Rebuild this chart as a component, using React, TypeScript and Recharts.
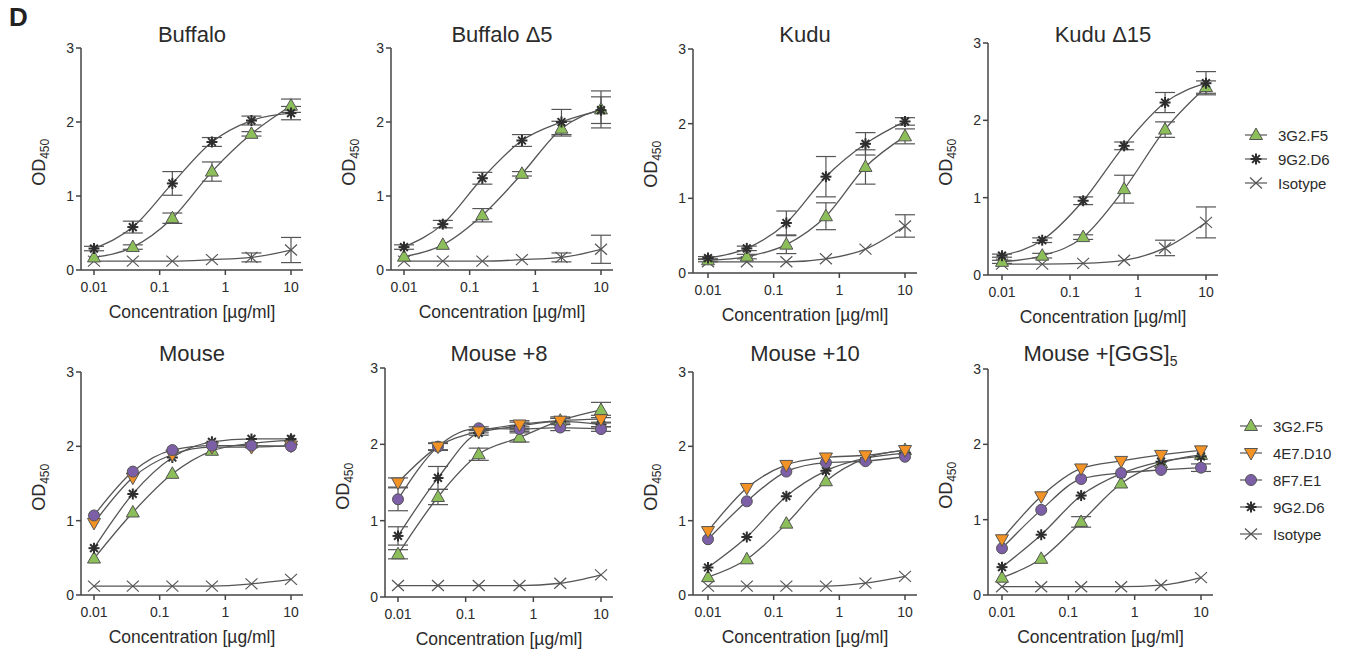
import React from "react";
import { ComposedChart, Line, XAxis, YAxis, ErrorBar } from "recharts";

// dilution series (µg/ml)
const conc = [0.01, 0.039, 0.156, 0.625, 2.5, 10];
const xTicks = [0.01, 0.1, 1, 10];
const yTicks = [0, 1, 2, 3];

// Buffalo
const buffalo3G2 = [0.17, 0.31, 0.7, 1.33, 1.84, 2.22];
const buffalo3G2Err = [0, 0.03, 0.07, 0.13, 0.03, 0.09];
const buffalo9G2 = [0.29, 0.58, 1.17, 1.73, 2.02, 2.12];
const buffalo9G2Err = [0.03, 0.08, 0.16, 0.06, 0.06, 0.09];
const buffaloIso = [0.12, 0.12, 0.12, 0.14, 0.17, 0.27];
const buffaloIsoErr = [0, 0, 0, 0, 0.06, 0.17];

// Buffalo Δ5
const buffaloD5_3G2 = [0.18, 0.34, 0.74, 1.3, 1.91, 2.17];
const buffaloD5_3G2Err = [0, 0, 0.09, 0.03, 0.1, 0.25];
const buffaloD5_9G2 = [0.31, 0.62, 1.24, 1.75, 2.0, 2.16];
const buffaloD5_9G2Err = [0.03, 0.05, 0.08, 0.08, 0.17, 0.18];
const buffaloD5Iso = [0.12, 0.12, 0.12, 0.14, 0.17, 0.28];
const buffaloD5IsoErr = [0, 0, 0, 0, 0.06, 0.19];

// Kudu
const kudu3G2 = [0.17, 0.22, 0.38, 0.76, 1.42, 1.83];
const kudu3G2Err = [0.02, 0.03, 0.12, 0.18, 0.23, 0.1];
const kudu9G2 = [0.2, 0.33, 0.67, 1.29, 1.73, 2.03];
const kudu9G2Err = [0.02, 0.03, 0.16, 0.27, 0.15, 0.05];
const kuduIso = [0.15, 0.15, 0.15, 0.19, 0.32, 0.63];
const kuduIsoErr = [0, 0, 0, 0, 0, 0.15];

// Kudu Δ15
const kuduD15_3G2 = [0.17, 0.25, 0.49, 1.11, 1.88, 2.43];
const kuduD15_3G2Err = [0.02, 0.03, 0.03, 0.18, 0.1, 0.08];
const kuduD15_9G2 = [0.25, 0.45, 0.96, 1.67, 2.23, 2.48];
const kuduD15_9G2Err = [0.02, 0.03, 0.05, 0.05, 0.13, 0.15];
const kuduD15Iso = [0.14, 0.14, 0.15, 0.19, 0.35, 0.68];
const kuduD15IsoErr = [0, 0, 0, 0, 0.1, 0.2];

// Mouse
const mouse3G2 = [0.49, 1.11, 1.63, 1.94, 2.04, 2.08];
const mouse4E7 = [0.97, 1.58, 1.89, 1.99, 1.99, 2.01];
const mouse8F7 = [1.07, 1.66, 1.95, 2.01, 2.01, 2.0];
const mouse9G2 = [0.63, 1.36, 1.85, 2.06, 2.1, 2.1];
const mouseIso = [0.12, 0.12, 0.12, 0.12, 0.15, 0.21];

// Mouse +8
const mouse8_3G2 = [0.56, 1.31, 1.87, 2.09, 2.31, 2.45];
const mouse8_3G2Err = [0.06, 0.1, 0.08, 0.06, 0.05, 0.1];
const mouse8_4E7 = [1.5, 1.97, 2.17, 2.26, 2.31, 2.33];
const mouse8_4E7Err = [0.06, 0.04, 0.02, 0.05, 0.03, 0.05];
const mouse8_8F7 = [1.28, 1.97, 2.21, 2.2, 2.22, 2.2];
const mouse8_8F7Err = [0.15, 0.05, 0.02, 0.03, 0.04, 0.03];
const mouse8_9G2 = [0.8, 1.56, 2.15, 2.24, 2.3, 2.26];
const mouse8_9G2Err = [0.12, 0.15, 0.03, 0.05, 0.04, 0.03];
const mouse8Iso = [0.15, 0.15, 0.15, 0.15, 0.18, 0.29];

// Mouse +10
const mouse10_3G2 = [0.24, 0.48, 0.96, 1.53, 1.84, 1.95];
const mouse10_4E7 = [0.86, 1.44, 1.75, 1.85, 1.88, 1.95];
const mouse10_8F7 = [0.75, 1.26, 1.66, 1.78, 1.8, 1.86];
const mouse10_9G2 = [0.37, 0.78, 1.33, 1.67, 1.84, 1.91];
const mouse10Iso = [0.12, 0.12, 0.12, 0.12, 0.16, 0.25];

// Mouse +[GGS]5
const mouseGGS_3G2 = [0.23, 0.48, 0.97, 1.48, 1.75, 1.86];
const mouseGGS_3G2Err = [0, 0, 0.07, 0, 0, 0];
const mouseGGS_4E7 = [0.74, 1.31, 1.68, 1.78, 1.86, 1.92];
const mouseGGS_8F7 = [0.62, 1.13, 1.54, 1.62, 1.66, 1.69];
const mouseGGS_8F7Err = [0, 0, 0, 0, 0, 0.05];
const mouseGGS_9G2 = [0.37, 0.8, 1.32, 1.61, 1.77, 1.84];
const mouseGGSIso = [0.11, 0.11, 0.11, 0.11, 0.13, 0.23];

const FONT = "'Liberation Sans', Arial, Helvetica, sans-serif";
const INK = "#2b2b2b";
const LINE = "#555";

const clones: Record<string, { shape: string; fill: string }> = {
  "3G2.F5": { shape: "tri", fill: "#8CBF5A" },
  "4E7.D10": { shape: "inv", fill: "#F39325" },
  "8F7.E1": { shape: "circle", fill: "#7D5FA8" },
  "9G2.D6": { shape: "star", fill: "#333" },
  Isotype: { shape: "x", fill: "none" },
};

function Marker({ shape, fill, cx, cy }: { shape: string; fill: string; cx: number; cy: number }) {
  if (shape === "tri")
    return (
      <polygon
        points={`${cx},${cy - 7} ${cx - 6.5},${cy + 4.5} ${cx + 6.5},${cy + 4.5}`}
        fill={fill}
        stroke={LINE}
        strokeWidth={1}
      />
    );
  if (shape === "inv")
    return (
      <polygon
        points={`${cx - 6.5},${cy - 4.5} ${cx + 6.5},${cy - 4.5} ${cx},${cy + 7}`}
        fill={fill}
        stroke={LINE}
        strokeWidth={1}
      />
    );
  if (shape === "circle") return <circle cx={cx} cy={cy} r={5.5} fill={fill} stroke={LINE} strokeWidth={1} />;
  if (shape === "star") {
    const r = 5.5;
    const d = r * Math.SQRT1_2;
    return (
      <g stroke="#2e2e2e" strokeWidth={2}>
        <line x1={cx - r} y1={cy} x2={cx + r} y2={cy} />
        <line x1={cx} y1={cy - r} x2={cx} y2={cy + r} />
        <line x1={cx - d} y1={cy - d} x2={cx + d} y2={cy + d} />
        <line x1={cx - d} y1={cy + d} x2={cx + d} y2={cy - d} />
      </g>
    );
  }
  return (
    <g stroke={LINE} strokeWidth={1.2}>
      <line x1={cx - 6} y1={cy - 5.5} x2={cx + 6} y2={cy + 5.5} />
      <line x1={cx - 6} y1={cy + 5.5} x2={cx + 6} y2={cy - 5.5} />
    </g>
  );
}

function XTick(p: any) {
  return (
    <text x={p.x} y={p.y} dy="0.85em" textAnchor="middle" fontSize={14} fill={INK} fontFamily={FONT}>
      {String(p.payload.value)}
    </text>
  );
}

function YTick(p: any) {
  return (
    <text x={p.x} y={p.y} dy="0.36em" textAnchor="end" fontSize={14} fill={INK} fontFamily={FONT}>
      {String(p.payload.value)}
    </text>
  );
}

type Series = { name: string; values: number[]; errs?: number[] };
type Box = { axisX: number; x001: number; x10: number; yTop: number; yBottom: number; titleY: number };

function toRows(s: Series) {
  return conc.map((x, i) => ({ x, y: s.values[i], e: s.errs && s.errs[i] ? s.errs[i] : null }));
}

const panels: { title: React.ReactNode; box: Box; series: Series[] }[] = [
  {
    title: "Buffalo",
    box: { axisX: 81, x001: 94, x10: 291, yTop: 48, yBottom: 270, titleY: 35 },
    series: [
      { name: "Isotype", values: buffaloIso, errs: buffaloIsoErr },
      { name: "3G2.F5", values: buffalo3G2, errs: buffalo3G2Err },
      { name: "9G2.D6", values: buffalo9G2, errs: buffalo9G2Err },
    ],
  },
  {
    title: "Buffalo Δ5",
    box: { axisX: 391, x001: 404, x10: 601, yTop: 48, yBottom: 270, titleY: 35 },
    series: [
      { name: "Isotype", values: buffaloD5Iso, errs: buffaloD5IsoErr },
      { name: "3G2.F5", values: buffaloD5_3G2, errs: buffaloD5_3G2Err },
      { name: "9G2.D6", values: buffaloD5_9G2, errs: buffaloD5_9G2Err },
    ],
  },
  {
    title: "Kudu",
    box: { axisX: 693, x001: 708, x10: 905, yTop: 49, yBottom: 273, titleY: 35 },
    series: [
      { name: "Isotype", values: kuduIso, errs: kuduIsoErr },
      { name: "3G2.F5", values: kudu3G2, errs: kudu3G2Err },
      { name: "9G2.D6", values: kudu9G2, errs: kudu9G2Err },
    ],
  },
  {
    title: "Kudu Δ15",
    box: { axisX: 988, x001: 1002, x10: 1206, yTop: 43, yBottom: 275, titleY: 35 },
    series: [
      { name: "Isotype", values: kuduD15Iso, errs: kuduD15IsoErr },
      { name: "3G2.F5", values: kuduD15_3G2, errs: kuduD15_3G2Err },
      { name: "9G2.D6", values: kuduD15_9G2, errs: kuduD15_9G2Err },
    ],
  },
  {
    title: "Mouse",
    box: { axisX: 81, x001: 94, x10: 291, yTop: 372, yBottom: 595, titleY: 354 },
    series: [
      { name: "Isotype", values: mouseIso },
      { name: "3G2.F5", values: mouse3G2 },
      { name: "9G2.D6", values: mouse9G2 },
      { name: "4E7.D10", values: mouse4E7 },
      { name: "8F7.E1", values: mouse8F7 },
    ],
  },
  {
    title: "Mouse +8",
    box: { axisX: 385, x001: 398, x10: 601, yTop: 368, yBottom: 597, titleY: 354 },
    series: [
      { name: "Isotype", values: mouse8Iso },
      { name: "3G2.F5", values: mouse8_3G2, errs: mouse8_3G2Err },
      { name: "9G2.D6", values: mouse8_9G2, errs: mouse8_9G2Err },
      { name: "8F7.E1", values: mouse8_8F7, errs: mouse8_8F7Err },
      { name: "4E7.D10", values: mouse8_4E7, errs: mouse8_4E7Err },
    ],
  },
  {
    title: "Mouse +10",
    box: { axisX: 693, x001: 708, x10: 905, yTop: 372, yBottom: 595, titleY: 354 },
    series: [
      { name: "Isotype", values: mouse10Iso },
      { name: "3G2.F5", values: mouse10_3G2 },
      { name: "9G2.D6", values: mouse10_9G2 },
      { name: "8F7.E1", values: mouse10_8F7 },
      { name: "4E7.D10", values: mouse10_4E7 },
    ],
  },
  {
    title: (
      <>
        Mouse +[GGS]<sub style={{ fontSize: 14, lineHeight: 0 }}>5</sub>
      </>
    ),
    box: { axisX: 988, x001: 1002, x10: 1201, yTop: 369, yBottom: 595, titleY: 354 },
    series: [
      { name: "Isotype", values: mouseGGSIso },
      { name: "3G2.F5", values: mouseGGS_3G2, errs: mouseGGS_3G2Err },
      { name: "9G2.D6", values: mouseGGS_9G2 },
      { name: "8F7.E1", values: mouseGGS_8F7, errs: mouseGGS_8F7Err },
      { name: "4E7.D10", values: mouseGGS_4E7 },
    ],
  },
];

const legendTop = ["3G2.F5", "9G2.D6", "Isotype"];
const legendBottom = ["3G2.F5", "4E7.D10", "8F7.E1", "9G2.D6", "Isotype"];

function Panel({ title, box, series }: { title: React.ReactNode; box: Box; series: Series[] }) {
  const { axisX, x001, x10, yTop, yBottom, titleY } = box;
  const perDecade = (x10 - x001) / 3;
  const axisEnd = x10 + 12;
  const lo = Math.pow(10, -2 - (x001 - axisX) / perDecade);
  const hi = Math.pow(10, 1 + (axisEnd - x10) / perDecade);
  const plotW = axisEnd - axisX;
  const plotH = yBottom - yTop;
  const ML = 40;
  const MT = 10;
  const MR = 10;
  const XH = 30;
  const axisStyle = { stroke: "#444", strokeWidth: 1.5 };

  return (
    <>
      <div style={{ position: "absolute", left: axisX - ML, top: yTop - MT }}>
        <ComposedChart
          width={ML + plotW + MR}
          height={MT + plotH + XH}
          margin={{ top: MT, right: MR, bottom: 0, left: 0 }}
        >
          <XAxis
            type="number"
            dataKey="x"
            scale="log"
            domain={[lo, hi]}
            allowDataOverflow
            ticks={xTicks}
            height={XH}
            tick={<XTick />}
            tickSize={5}
            tickMargin={5}
            axisLine={axisStyle}
            tickLine={axisStyle}
          />
          <YAxis
            type="number"
            domain={[0, 3]}
            ticks={yTicks}
            width={ML}
            tick={<YTick />}
            tickSize={5}
            tickMargin={2}
            axisLine={axisStyle}
            tickLine={axisStyle}
          />
          {series.map((s) => {
            const c = clones[s.name];
            return (
              <Line
                key={s.name}
                data={toRows(s)}
                dataKey="y"
                type="monotone"
                stroke={LINE}
                strokeWidth={1.3}
                isAnimationActive={false}
                activeDot={false}
                dot={(p: any) => <Marker key={p.index} shape={c.shape} fill={c.fill} cx={p.cx} cy={p.cy} />}
              >
                {s.errs && <ErrorBar dataKey="e" width={10} stroke={LINE} strokeWidth={1.2} direction="y" />}
              </Line>
            );
          })}
        </ComposedChart>
      </div>
      <div
        style={{
          position: "absolute",
          left: axisX,
          width: plotW,
          top: titleY - 13,
          textAlign: "center",
          fontSize: 22,
          color: INK,
          whiteSpace: "nowrap",
          lineHeight: "26px",
        }}
      >
        {title}
      </div>
      <div
        style={{
          position: "absolute",
          left: axisX - 39 - 50,
          top: (yTop + yBottom) / 2 - 12,
          width: 100,
          textAlign: "center",
          fontSize: 18,
          color: INK,
          lineHeight: "24px",
          transform: "rotate(-90deg)",
        }}
      >
        OD<sub style={{ fontSize: 12 }}>450</sub>
      </div>
      <div
        style={{
          position: "absolute",
          left: axisX - 40,
          width: plotW + 80,
          top: yBottom + 31,
          textAlign: "center",
          fontSize: 17.5,
          color: INK,
          lineHeight: "22px",
          whiteSpace: "nowrap",
        }}
      >
        Concentration [µg/ml]
      </div>
    </>
  );
}

function Legend({ names, x, y, gap }: { names: string[]; x: number; y: number; gap: number }) {
  return (
    <>
      {names.map((n, i) => (
        <div
          key={n}
          style={{ position: "absolute", left: x, top: y + i * gap - 10, height: 20, display: "flex", alignItems: "center" }}
        >
          <svg width={24} height={20}>
            <line x1={1} y1={10} x2={23} y2={10} stroke={LINE} strokeWidth={1.2} />
            <Marker shape={clones[n].shape} fill={clones[n].fill} cx={12} cy={10} />
          </svg>
          <span style={{ marginLeft: 10, fontSize: 15, color: INK }}>{n}</span>
        </div>
      ))}
    </>
  );
}

export default function App() {
  return (
    <div
      style={{
        position: "absolute",
        left: 0,
        top: 0,
        width: 1350,
        height: 652,
        background: "#fff",
        fontFamily: FONT,
        overflow: "hidden",
      }}
    >
      <div style={{ position: "absolute", left: 9, top: 2, fontSize: 26, fontWeight: 700, color: "#222" }}>D</div>
      {panels.map((p, i) => (
        <Panel key={i} title={p.title} box={p.box} series={p.series} />
      ))}
      <Legend names={legendTop} x={1244} y={135} gap={24} />
      <Legend names={legendBottom} x={1239} y={426} gap={27} />
    </div>
  );
}
